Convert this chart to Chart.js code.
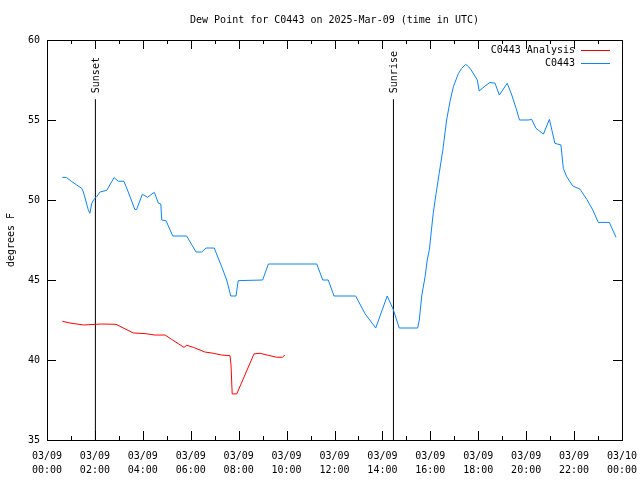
<!DOCTYPE html>
<html>
<head>
<meta charset="utf-8">
<script src="https://cdn.jsdelivr.net/npm/chart.js@4.4.1/dist/chart.umd.min.js"></script>
<style>
  html, body { margin: 0; padding: 0; background: #fff; }
  #wrap { width: 640px; height: 480px; }
</style>
</head>
<body>
<div id="wrap"><canvas id="myChart" width="640" height="480"></canvas></div>
<script>
// hours since 03/09 00:00 UTC
var obsTimes = [0.64,0.82,1.03,1.24,1.45,1.52,1.72,1.79,1.87,1.96,2.07,2.21,2.49,2.80,2.98,3.21,3.39,3.67,3.74,3.98,4.19,4.48,4.65,4.75,4.79,4.97,5.25,5.83,6.22,6.46,6.64,6.98,7.29,7.50,7.67,7.89,7.98,9.00,9.24,11.26,11.51,11.74,11.98,12.88,13.06,13.27,13.72,14.20,14.45,14.70,15.47,15.54,15.64,15.78,15.87,15.96,16.12,16.24,16.37,16.52,16.68,16.82,16.96,17.17,17.31,17.48,17.66,17.86,17.96,18.04,18.28,18.49,18.70,18.88,19.21,19.40,19.58,19.72,20.09,20.23,20.41,20.72,20.97,21.20,21.45,21.55,21.69,21.94,22.25,22.53,22.78,23.01,23.47,23.75];
var obsDew = [51.42,51.4,51.15,50.94,50.73,50.5,49.4,49.17,49.8,50.04,50.2,50.5,50.6,51.4,51.17,51.17,50.5,49.4,49.4,50.36,50.17,50.48,49.8,49.75,48.75,48.7,47.75,47.75,46.75,46.75,47.0,47.0,45.83,45.0,44.0,44.0,44.96,45.0,46.0,46.0,45.0,45.0,44.0,44.0,43.5,42.9,42.0,44.0,43.17,42.0,42.0,42.5,44.0,45.2,46.25,46.9,49.17,50.4,51.67,53.1,55.0,56.15,57.08,57.9,58.23,58.48,58.23,57.75,57.5,56.81,57.12,57.35,57.3,56.56,57.3,56.56,55.73,55.0,55.0,55.04,54.48,54.12,55.04,53.54,53.44,51.98,51.46,50.88,50.67,50.04,49.38,48.6,48.6,47.67];

var anaTimes = [0.64,0.96,1.52,2.28,2.88,3.60,4.09,4.51,4.93,5.20,5.72,5.83,6.11,6.59,6.94,7.29,7.64,7.68,7.73,7.92,8.64,8.89,9.24,9.59,9.82,9.93];
var anaDew = [42.42,42.31,42.19,42.25,42.23,41.69,41.65,41.56,41.56,41.29,40.79,40.92,40.79,40.5,40.42,40.31,40.27,39.69,37.88,37.88,40.38,40.42,40.29,40.17,40.17,40.31];

var sunsetTime = 2.02;
var sunriseTime = 14.46;
var sunLineTop = 56.3;

var xTickLabels = ["03/09|00:00","03/09|02:00","03/09|04:00","03/09|06:00","03/09|08:00","03/09|10:00","03/09|12:00","03/09|14:00","03/09|16:00","03/09|18:00","03/09|20:00","03/09|22:00","03/10|00:00"];
var yTicks = [35, 40, 45, 50, 55, 60];

var titleText = "Dew Point for C0443 on 2025-Mar-09 (time in UTC)";
var mono = "'DejaVu Sans Mono', 'Liberation Mono', monospace";

function pts(xs, ys) {
    return xs.map(function (x, i) { return { x: x, y: ys[i] }; });
}

var frame = {
    id: "frame",
    afterDraw: function (chart) {
        var ctx = chart.ctx, a = chart.chartArea;
        var xs = chart.scales.x, ys = chart.scales.y;
        ctx.save();
        ctx.strokeStyle = "#000";
        ctx.lineWidth = 1;
        ctx.strokeRect(Math.round(a.left) + 0.5, Math.round(a.top) + 0.5, Math.round(a.right - a.left), Math.round(a.bottom - a.top));
        ctx.beginPath();
        for (var h = 0; h <= 24; h++) {
            var px = Math.round(xs.getPixelForValue(h)) + 0.5;
            var len = (h % 2 === 0) ? 9 : 4;
            ctx.moveTo(px, a.bottom); ctx.lineTo(px, a.bottom - len);
            ctx.moveTo(px, a.top); ctx.lineTo(px, a.top + len);
        }
        yTicks.forEach(function (v) {
            var py = Math.round(ys.getPixelForValue(v)) + 0.5;
            ctx.moveTo(a.left, py); ctx.lineTo(a.left + 9, py);
            ctx.moveTo(a.right, py); ctx.lineTo(a.right - 9, py);
        });
        ctx.stroke();

        // title
        ctx.fillStyle = "#000";
        ctx.font = "10px " + mono;
        ctx.textAlign = "center";
        ctx.textBaseline = "middle";
        ctx.fillText(titleText, (a.left + a.right) / 2, 20);

        // y axis title
        ctx.save();
        ctx.translate(11, (a.top + a.bottom) / 2);
        ctx.rotate(-Math.PI / 2);
        ctx.fillText("degrees F", 0, 0);
        ctx.restore();

        // sunset / sunrise labels
        [[sunsetTime, "Sunset"], [sunriseTime, "Sunrise"]].forEach(function (s) {
            ctx.save();
            ctx.translate(Math.round(xs.getPixelForValue(s[0])) + 1, ys.getPixelForValue(sunLineTop) - 6);
            ctx.rotate(-Math.PI / 2);
            ctx.textAlign = "left";
            ctx.textBaseline = "middle";
            ctx.fillText(s[1], 0, 0);
            ctx.restore();
        });

        // legend
        var legend = [["C0443 Analysis", "#ff0000"], ["C0443", "#0a84ff"]];
        legend.forEach(function (l, i) {
            var ly = 50 + i * 13;
            ctx.textAlign = "right";
            ctx.fillStyle = "#000";
            ctx.fillText(l[0], 575, ly);
            ctx.strokeStyle = l[1];
            ctx.beginPath();
            ctx.moveTo(581, ly + 0.5); ctx.lineTo(610, ly + 0.5);
            ctx.stroke();
        });
        ctx.restore();
    }
};

new Chart("myChart", {
    type: "line",
    data: {
        datasets: [{
            label: "C0443 Analysis",
            data: pts(anaTimes, anaDew),
            borderColor: "#ff0000",
            borderWidth: 1,
            pointRadius: 0,
            fill: false,
            lineTension: 0
        }, {
            label: "C0443",
            data: pts(obsTimes, obsDew),
            borderColor: "#0a84ff",
            borderWidth: 1,
            pointRadius: 0,
            fill: false,
            lineTension: 0
        }, {
            label: "Sunset",
            data: [{ x: sunsetTime, y: 35 }, { x: sunsetTime, y: sunLineTop }],
            borderColor: "#000",
            borderWidth: 1,
            pointRadius: 0
        }, {
            label: "Sunrise",
            data: [{ x: sunriseTime, y: 35 }, { x: sunriseTime, y: sunLineTop }],
            borderColor: "#000",
            borderWidth: 1,
            pointRadius: 0
        }]
    },
    options: {
        responsive: false,
        animation: false,
        layout: { padding: { top: 40, right: 18, left: 0, bottom: 0 } },
        plugins: { legend: { display: false }, title: { display: false }, tooltip: { enabled: false } },
        scales: {
            x: {
                type: "linear",
                min: 0, max: 24,
                afterFit: function (s) { s.height = 40; s.paddingLeft = 0; s.paddingRight = 0; },
                grid: { display: false, drawTicks: false },
                border: { display: false },
                ticks: {
                    stepSize: 2,
                    autoSkip: false,
                    maxRotation: 0,
                    padding: 9,
                    color: "#000",
                    font: { family: mono, size: 10, lineHeight: 1.4 },
                    callback: function (v) { return xTickLabels[v / 2].split("|"); }
                }
            },
            y: {
                min: 35, max: 60,
                afterFit: function (s) { s.width = 47; s.paddingTop = 0; s.paddingBottom = 0; },
                afterBuildTicks: function (s) { s.ticks = yTicks.map(function (v) { return { value: v }; }); },
                grid: { display: false, drawTicks: false },
                border: { display: false },
                ticks: {
                    padding: 7,
                    color: "#000",
                    font: { family: mono, size: 10 }
                }
            }
        }
    },
    plugins: [frame]
});
</script>
</body>
</html>
